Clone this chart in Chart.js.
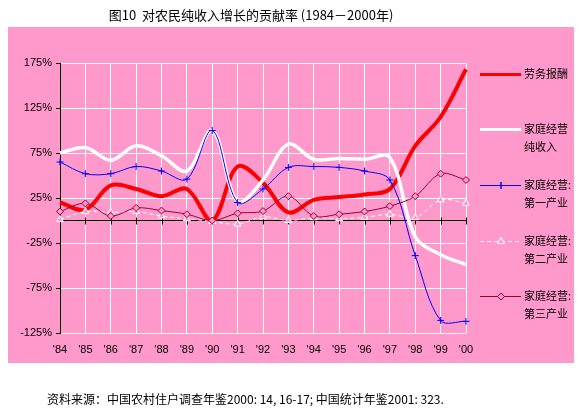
<!DOCTYPE html>
<html>
<head>
<meta charset="utf-8">
<script src="https://cdn.jsdelivr.net/npm/chart.js@4"></script>
<style>
  body { margin: 0; background: #fff; }
  #wrap { width: 584px; height: 410px; }
</style>
</head>
<body>
<div id="wrap"><canvas id="chart" width="584" height="410"></canvas></div>
<script>
// --- dados ---
const years = ["'84", "'85", "'86", "'87", "'88", "'89", "'90", "'91", "'92", "'93", "'94", "'95", "'96", "'97", "'98", "'99", "'00"];
const laborPay   = [20, 12, 39, 35, 27, 35, 0, 60, 42, 9, 23, 26, 29, 35, 83, 115, 168];
const familyNet  = [75, 81, 67, 83, 72, 55, 100, 21, 45, 85, 68, 69, 68, 70, -18, -38, -49];
const primary    = [65, 52, 52, 60, 55, 46, 100, 20, 35, 59, 60, 59, 55, 45, -39, -111, -112];
const secondary  = [1, 10, 9, 10, 5, 2, -1, -4, 4, 0, 3, 2, 3.5, 7, 3, 23, 19];
const tertiary   = [10, 19, 5, 14, 11, 7, 0, 8, 10.5, 27, 5, 7, 10, 16, 27, 52, 45];
const yTicks     = [-125, -75, -25, 25, 75, 125, 175];

const seriesNames = ['劳务报酬', ['家庭经营', '纯收入'], ['家庭经营:', '第一产业'], ['家庭经营:', '第二产业'], ['家庭经营:', '第三产业']];

const PINK = '#ff99cc';
const CJK = '"Noto Sans CJK SC", sans-serif';

// fundo rosa, título, fonte e linha do zero
const decor = {
    id: 'decor',
    beforeDraw(chart) {
        const ctx = chart.ctx;
        ctx.save();
        ctx.fillStyle = '#ffffff';
        ctx.fillRect(0, 0, chart.width, chart.height);
        ctx.fillStyle = PINK;
        ctx.fillRect(8, 27, 566, 336);
        ctx.fillStyle = '#000';
        ctx.textBaseline = 'middle';
        ctx.textAlign = 'center';
        ctx.font = '13px ' + CJK;
        ctx.fillText('图10  对农民纯收入增长的贡献率 (1984－2000年)', 251, 15);
        ctx.textAlign = 'left';
        ctx.font = '12px ' + CJK;
        ctx.fillText('资料来源：中国农村住户调查年鉴2000: 14, 16-17; 中国统计年鉴2001: 323.', 47, 399);
        ctx.restore();
    },
    beforeDatasetsDraw(chart) {
        const ctx = chart.ctx;
        const x = chart.scales.x, y = chart.scales.y;
        const y0 = Math.round(y.getPixelForValue(0)) + 0.5;
        ctx.save();
        ctx.strokeStyle = '#000';
        ctx.lineWidth = 1;
        ctx.beginPath();
        ctx.moveTo(chart.chartArea.left, y0);
        ctx.lineTo(chart.chartArea.right, y0);
        years.forEach((_, i) => {
            const px = Math.round(x.getPixelForValue(i)) + 0.5;
            ctx.moveTo(px, y0 - 3);
            ctx.lineTo(px, y0 + 4);
        });
        ctx.stroke();
        ctx.restore();
    },
    afterDraw(chart) {
        // legenda à direita
        const ctx = chart.ctx;
        const rows = [74, 129, 185, 241, 296];
        ctx.save();
        chart.data.datasets.forEach((ds, i) => {
            const y = rows[i] + 0.5;
            ctx.strokeStyle = ds.borderColor;
            ctx.lineWidth = i < 2 ? 3 : 1;
            ctx.setLineDash(ds.borderDash || []);
            ctx.beginPath();
            ctx.moveTo(480, y);
            ctx.lineTo(521, y);
            ctx.stroke();
            ctx.setLineDash([]);
            if (ds.pointRadius > 0) {
                Chart.helpers.drawPoint(ctx, {
                    pointStyle: ds.pointStyle,
                    radius: ds.pointRadius,
                    borderWidth: 1,
                    rotation: 0
                }, 501, y);
                ctx.fillStyle = ds.pointBackgroundColor;
                ctx.strokeStyle = ds.pointBorderColor;
                Chart.helpers.drawPoint(ctx, { pointStyle: ds.pointStyle, radius: ds.pointRadius, borderWidth: 1, rotation: 0 }, 501, y);
            }
            const name = seriesNames[i];
            const lines = Array.isArray(name) ? name : [name];
            ctx.fillStyle = '#000';
            ctx.font = '11px ' + CJK;
            ctx.textAlign = 'left';
            ctx.textBaseline = 'middle';
            lines.forEach((t, j) => ctx.fillText(t, 524, rows[i] + j * 18));
        });
        ctx.restore();
    }
};

const ctx = document.getElementById('chart').getContext('2d');
new Chart(ctx, {
    type: 'line',
    data: {
        labels: years,
        datasets: [
            { label: '劳务报酬', data: laborPay, borderColor: '#ff0000', borderWidth: 4, pointRadius: 0, tension: 0.35, order: 5 },
            { label: '家庭经营纯收入', data: familyNet, borderColor: '#ffffff', borderWidth: 3.5, pointRadius: 0, tension: 0.35, order: 4 },
            { label: '家庭经营:第一产业', data: primary, borderColor: '#0000ff', borderWidth: 1, pointStyle: 'cross', pointRadius: 3.5, pointBorderColor: '#0000ff', pointBackgroundColor: '#0000ff', pointBorderWidth: 1, tension: 0.35, order: 3 },
            { label: '家庭经营:第二产业', data: secondary, borderColor: '#ffffff', borderWidth: 1, borderDash: [4, 3], pointStyle: 'triangle', pointRadius: 4, pointBorderColor: '#ffffff', pointBackgroundColor: PINK, pointBorderWidth: 1, tension: 0.35, order: 2 },
            { label: '家庭经营:第三产业', data: tertiary, borderColor: '#990033', borderWidth: 1, pointStyle: 'rectRot', pointRadius: 3.5, pointBorderColor: '#990033', pointBackgroundColor: PINK, pointBorderWidth: 1, tension: 0.35, order: 1 }
        ]
    },
    options: {
        responsive: false,
        animation: false,
        events: [],
        layout: { padding: { left: 8, right: 118, top: 63, bottom: 55 } },
        plugins: { legend: { display: false }, tooltip: { enabled: false } },
        scales: {
            x: {
                offset: false,
                grid: { color: '#ffffff', lineWidth: 1, drawTicks: false },
                border: { display: false },
                ticks: { color: '#000', font: { family: 'Liberation Sans, Arial', size: 11 }, padding: 10, maxRotation: 0, autoSkip: false },
                afterFit(scale) { scale.height = 22; }
            },
            y: {
                min: -125,
                max: 175,
                afterBuildTicks(scale) { scale.ticks = yTicks.map(v => ({ value: v })); },
                grid: { color: '#ffffff', lineWidth: 1, tickColor: '#000', tickLength: 4 },
                border: { color: '#000', width: 1 },
                ticks: { color: '#000', font: { family: 'Liberation Sans, Arial', size: 11 }, padding: 4, callback: v => v + '%' },
                afterFit(scale) { scale.width = 52; }
            }
        }
    },
    plugins: [decor]
});
</script>
</body>
</html>
